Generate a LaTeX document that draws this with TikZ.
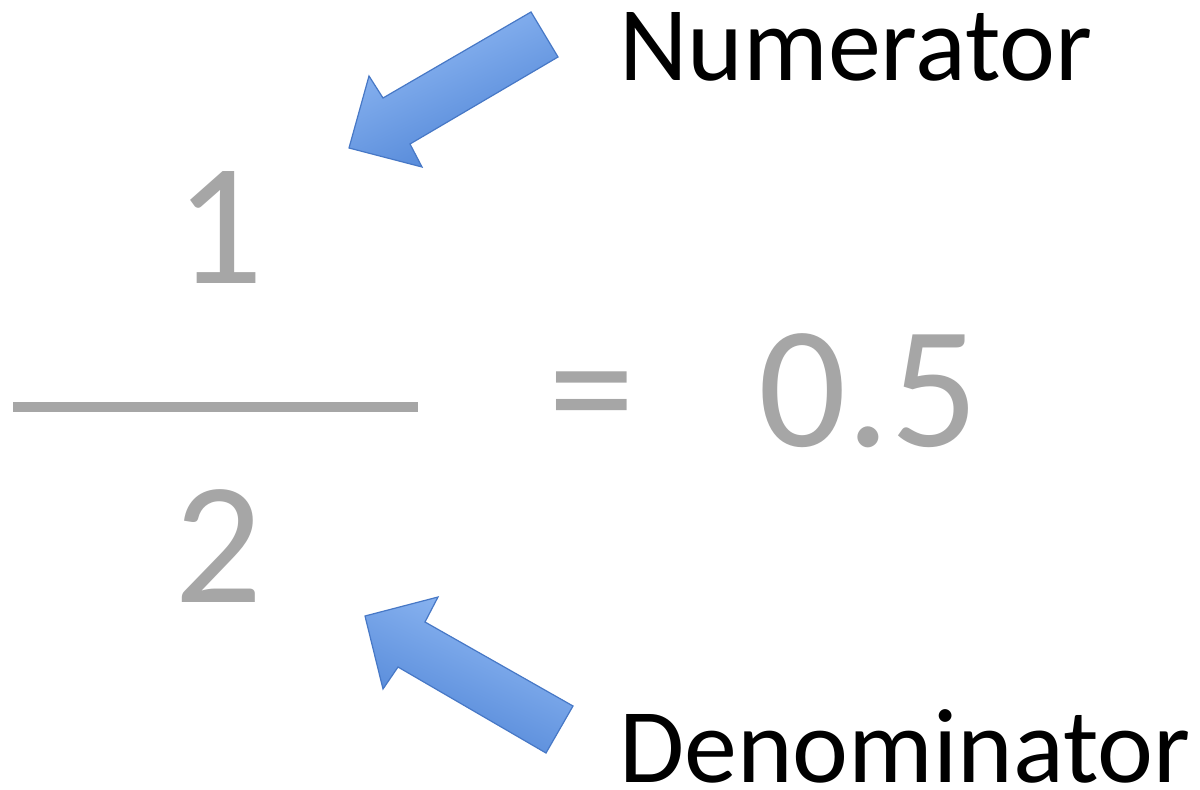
\documentclass[tikz,border=0pt]{standalone}
\usepackage{fontspec}
\setmainfont{Carlito}
\usepackage{xcolor}
\usetikzlibrary{positioning, calc}
\definecolor{digitgray}{HTML}{A6A6A6}
\definecolor{arrowlight}{HTML}{94BCF5}
\definecolor{arrowdark}{HTML}{4C82D5}
\definecolor{arrowline}{HTML}{4778C6}

\begin{document}
\begin{tikzpicture}[
  x=1pt, y=-1pt,
  bignum/.style={inner sep=0pt, text=digitgray, font=\fontsize{174}{174}\selectfont},
  caption/.style={inner sep=0pt, anchor=base west, text=black, font=\fontsize{106}{106}\selectfont},
  blockarrow/.style={draw=arrowline, line width=1.2pt, line join=miter,
                     top color=arrowlight, bottom color=arrowdark}
]
  \useasboundingbox (0,0) rectangle (1200,790);
  \fill[white] (0,0) rectangle (1200,790);
  \node[bignum, anchor=base] (num) at (220,283) {1};
  \node[bignum, anchor=base] (den) at (219,602) {2};
  \coordinate (barleft) at (13,407);
  \coordinate (barright) at (418,407);
  \draw[digitgray, line width=10pt] (barleft) -- (barright);
  \node[bignum, anchor=base west] (result) at (758,446) {0.5};
  \node[bignum, anchor=base west] (eqsign) at (548,446) {=};
  \node[caption] (numlabel) at (619,80) {Numerator};
  \node[caption] (denlabel) at (619,782) {Denominator};
  \path[blockarrow, shading angle=25] (531,12) -- (558,57) -- (410,144) -- (422,167)
    -- (349,148) -- (369,76) -- (383,98) -- cycle;
  \path[blockarrow, shading angle=-25] (365,616) -- (438,597) -- (425,622) -- (573,706)
    -- (546,753) -- (398,667) -- (383,689) -- cycle;
\end{tikzpicture}
\end{document}
